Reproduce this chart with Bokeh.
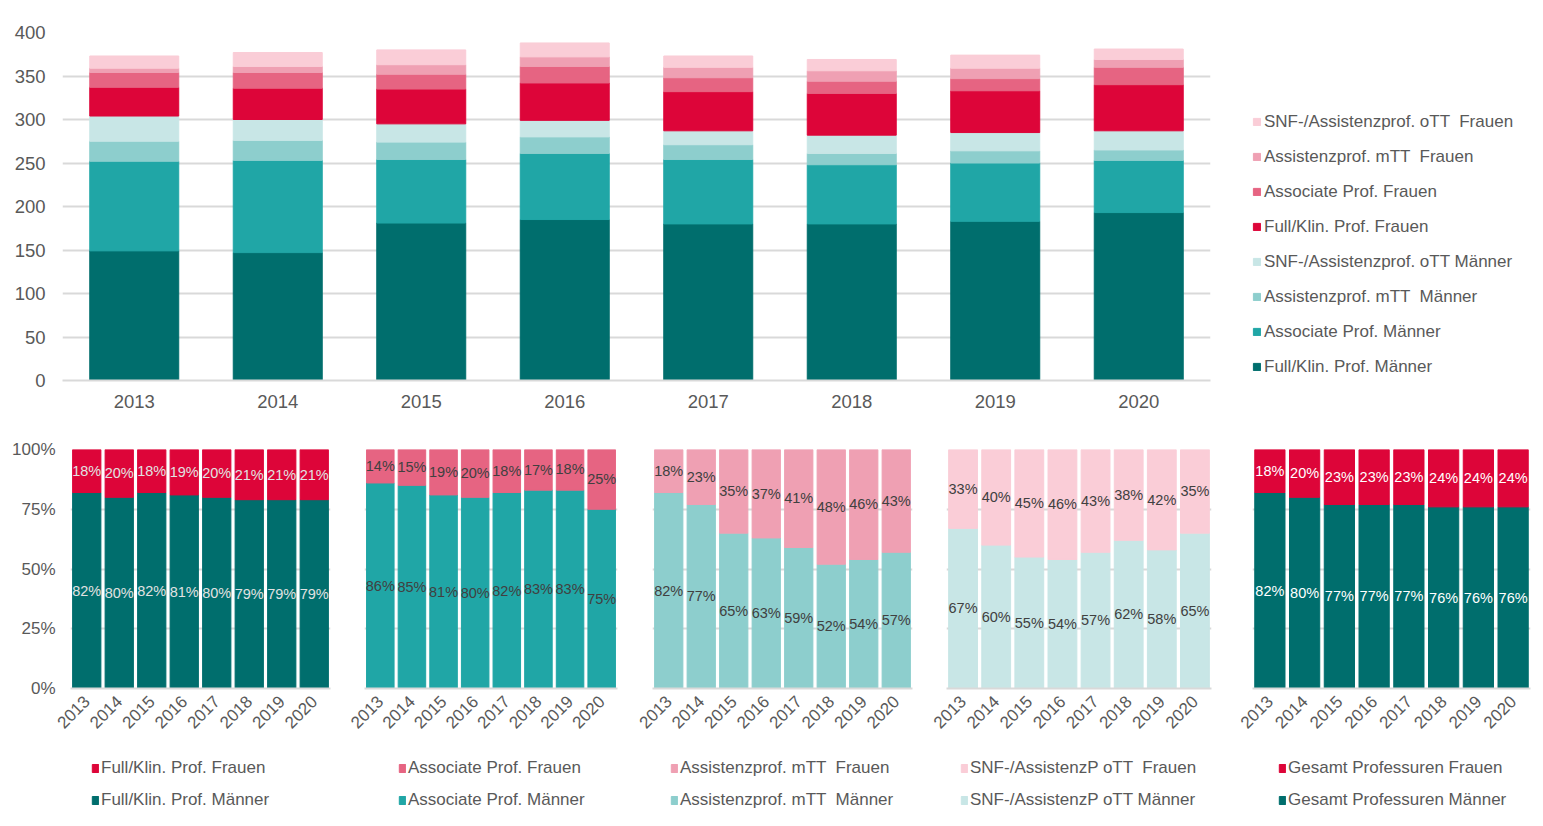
import math
from bokeh.plotting import figure
from bokeh.layouts import column, row
from bokeh.models import ColumnDataSource, Legend, LegendItem, Range1d, PrintfTickFormatter
from bokeh.embed import file_html
from bokeh.resources import INLINE
from bokeh.core.properties import value

FONT = "Liberation Sans"
GREY = "#595959"
GRID = "#d9d9d9"

years = ["2013", "2014", "2015", "2016", "2017", "2018", "2019", "2020"]

# Top chart: head counts
full_m = [149, 147, 181, 185, 180, 180, 183, 193]
assoc_m = [103, 106, 73, 76, 74, 68, 67, 60]
mtt_m = [23, 23, 20, 19, 17, 13, 14, 12]
ott_m = [29, 24, 21, 19, 16, 21, 21, 22]
full_f = [33, 36, 40, 43, 45, 48, 48, 53]
assoc_f = [17, 18, 17, 19, 16, 14, 14, 20]
mtt_f = [5, 7, 11, 11, 12, 12, 12, 9]
ott_f = [14, 16, 17, 16, 13, 13, 15, 12]

top_labels = ["Full/Klin. Prof. Männer", "Associate Prof. Männer", "Assistenzprof. mTT  Männer",
              "SNF-/Assistenzprof. oTT Männer", "Full/Klin. Prof. Frauen", "Associate Prof. Frauen",
              "Assistenzprof. mTT  Frauen", "SNF-/Assistenzprof. oTT  Frauen"]
top_colors = ["#006E6D", "#20A6A6", "#8DCECD", "#C8E6E6", "#DD0539", "#E66482", "#EFA0B3", "#FACDD7"]

# Bottom panels: percentages
full_pct_m = [82, 80, 82, 81, 80, 79, 79, 79]
full_pct_f = [18, 20, 18, 19, 20, 21, 21, 21]
assoc_pct_m = [86, 85, 81, 80, 82, 83, 83, 75]
assoc_pct_f = [14, 15, 19, 20, 18, 17, 18, 25]
mtt_pct_m = [82, 77, 65, 63, 59, 52, 54, 57]
mtt_pct_f = [18, 23, 35, 37, 41, 48, 46, 43]
ott_pct_m = [67, 60, 55, 54, 57, 62, 58, 65]
ott_pct_f = [33, 40, 45, 46, 43, 38, 42, 35]
total_pct_m = [82, 80, 77, 77, 77, 76, 76, 76]
total_pct_f = [18, 20, 23, 23, 23, 24, 24, 24]


def legend_fig(width, height):
    f = figure(width=width, height=height, x_range=years, y_range=Range1d(0, 1),
               x_axis_type=None, y_axis_type=None, output_backend="svg", toolbar_location=None,
               min_border=0)
    f.outline_line_color = None
    f.grid.visible = False
    return f


def make_legend(items, loc, lh, sp, gw, gh, st):
    return Legend(items=items, location=loc, orientation="vertical",
                  label_text_font=FONT, label_text_font_size="17px", label_text_color=GREY,
                  glyph_width=gw, glyph_height=gh, label_height=lh, spacing=sp, label_standoff=st,
                  padding=0, margin=0, border_line_color=None, background_fill_alpha=0,
                  inactive_fill_alpha=0)


# ---------------- top chart ----------------
keys = ["full_m", "assoc_m", "mtt_m", "ott_m", "full_f", "assoc_f", "mtt_f", "ott_f"]
src = ColumnDataSource(dict(years=years, full_m=full_m, assoc_m=assoc_m, mtt_m=mtt_m, ott_m=ott_m,
                            full_f=full_f, assoc_f=assoc_f, mtt_f=mtt_f, ott_f=ott_f))
top = figure(x_range=years, y_range=Range1d(0, 400), width=1230, height=428,
             output_backend="svg", toolbar_location=None,
             min_border_left=62, min_border_right=20, min_border_top=32, min_border_bottom=48)
top.outline_line_color = None
top.vbar_stack(keys, x="years", width=0.62, color=top_colors, source=src)
top.xgrid.grid_line_color = None
top.ygrid.grid_line_color = GRID
top.ygrid.grid_line_width = 2
top.yaxis.ticker = [0, 50, 100, 150, 200, 250, 300, 350, 400]
top.yaxis.axis_line_color = None
top.yaxis.major_tick_line_color = None
top.yaxis.major_tick_out = 0
top.yaxis.minor_tick_line_color = None
top.yaxis.major_label_standoff = 17
top.xaxis.axis_line_color = GRID
top.xaxis.axis_line_width = 2
top.xaxis.major_tick_line_color = None
top.xaxis.major_tick_out = 0
top.xaxis.major_label_standoff = 14
for ax in (top.xaxis[0], top.yaxis[0]):
    ax.major_label_text_font = FONT
    ax.major_label_text_font_size = "18.5px"
    ax.major_label_text_color = GREY

# legend lives in its own figure beside the chart (legend keys only; its bars are hidden)
top_leg_fig = legend_fig(310, 428)
proxies = top_leg_fig.vbar_stack(keys, x="years", width=0.62, color=top_colors, source=src)
for r in proxies:
    r.visible = False
items = [LegendItem(label=l, renderers=[r]) for l, r in zip(top_labels, proxies)][::-1]
top_leg_fig.add_layout(make_legend(items, (22, 3), 21, 14, 9, 9, 3))


# ---------------- bottom panels ----------------
def panel(men, women, c_m, c_f, txtcol, width, left, right, show_y):
    p = figure(x_range=years, y_range=Range1d(0, 100), width=width, height=312,
               output_backend="svg", toolbar_location=None,
               min_border_left=left, min_border_right=right, min_border_top=21, min_border_bottom=52)
    p.outline_line_color = None
    s = ColumnDataSource(dict(
        years=years, m=men, f=women,
        m_mid=[v / 2 for v in men],
        f_mid=[a + b / 2 for a, b in zip(men, women)],
        m_lab=[f"{v}%" for v in men],
        f_lab=[f"{v}%" for v in women]))
    p.vbar_stack(["m", "f"], x="years", width=0.87, color=[c_m, c_f], source=s)
    for yk, tk in (("m_mid", "m_lab"), ("f_mid", "f_lab")):
        p.text(x="years", y=yk, text=tk, source=s, text_align="center", text_baseline="middle",
               text_font=value(FONT), text_font_size="14.5px", text_color=txtcol)
    p.xgrid.grid_line_color = None
    p.ygrid.grid_line_color = GRID
    p.ygrid.grid_line_width = 2
    p.yaxis.ticker = [0, 25, 50, 75, 100]
    p.yaxis.formatter = PrintfTickFormatter(format="%d%%")
    p.yaxis.axis_line_color = None
    p.yaxis.major_tick_line_color = None
    p.yaxis.major_tick_out = 0
    p.yaxis.minor_tick_line_color = None
    p.yaxis.major_label_standoff = 15
    p.yaxis.major_label_text_font = FONT
    p.yaxis.major_label_text_font_size = "17px"
    p.yaxis.major_label_text_color = GREY
    p.yaxis.visible = show_y
    p.xaxis.axis_line_color = GRID
    p.xaxis.axis_line_width = 2
    p.xaxis.major_tick_line_color = None
    p.xaxis.major_tick_out = 0
    p.xaxis.major_label_orientation = math.pi / 4
    p.xaxis.major_label_standoff = 10
    p.xaxis.major_label_text_font = FONT
    p.xaxis.major_label_text_font_size = "17px"
    p.xaxis.major_label_text_color = GREY
    return p, s


p1, s1 = panel(full_pct_m, full_pct_f, top_colors[0], top_colors[4], "#E2E2E2", 347, 70, 17, True)
p2, s2 = panel(assoc_pct_m, assoc_pct_f, top_colors[1], top_colors[5], "#404040", 288, 17, 18, False)
p3, s3 = panel(mtt_pct_m, mtt_pct_f, top_colors[2], top_colors[6], "#404040", 294, 17, 17, False)
p4, s4 = panel(ott_pct_m, ott_pct_f, top_colors[3], top_colors[7], "#404040", 303, 17, 21, False)
p5, s5 = panel(total_pct_m, total_pct_f, top_colors[0], top_colors[4], "#FFFFFF", 308, 20, 10, False)

bottom_legends = [
    (s1, "Full/Klin. Prof. Frauen", "Full/Klin. Prof. Männer", top_colors[4], top_colors[0], 91),
    (s2, "Associate Prof. Frauen", "Associate Prof. Männer", top_colors[5], top_colors[1], 398),
    (s3, "Assistenzprof. mTT  Frauen", "Assistenzprof. mTT  Männer", top_colors[6], top_colors[2], 670),
    (s4, "SNF-/AssistenzP oTT  Frauen", "SNF-/AssistenzP oTT Männer", top_colors[7], top_colors[3], 960),
    (s5, "Gesamt Professuren Frauen", "Gesamt Professuren Männer", top_colors[4], top_colors[0], 1278),
]
bl = legend_fig(1540, 84)
for s, lab_f, lab_m, c_f, c_m, lx in bottom_legends:
    rm, rf = bl.vbar_stack(["m", "f"], x="years", width=0.87, color=[c_m, c_f], source=s)
    rm.visible = False
    rf.visible = False
    bl.add_layout(make_legend([LegendItem(label=lab_f, renderers=[rf]),
                               LegendItem(label=lab_m, renderers=[rm])], (lx, 14), 20, 12, 8, 10, 2))

layout = column(row(top, top_leg_fig, spacing=0),
                row(p1, p2, p3, p4, p5, spacing=0),
                bl, spacing=0)
open("out.html", "w").write(file_html(layout, INLINE))
